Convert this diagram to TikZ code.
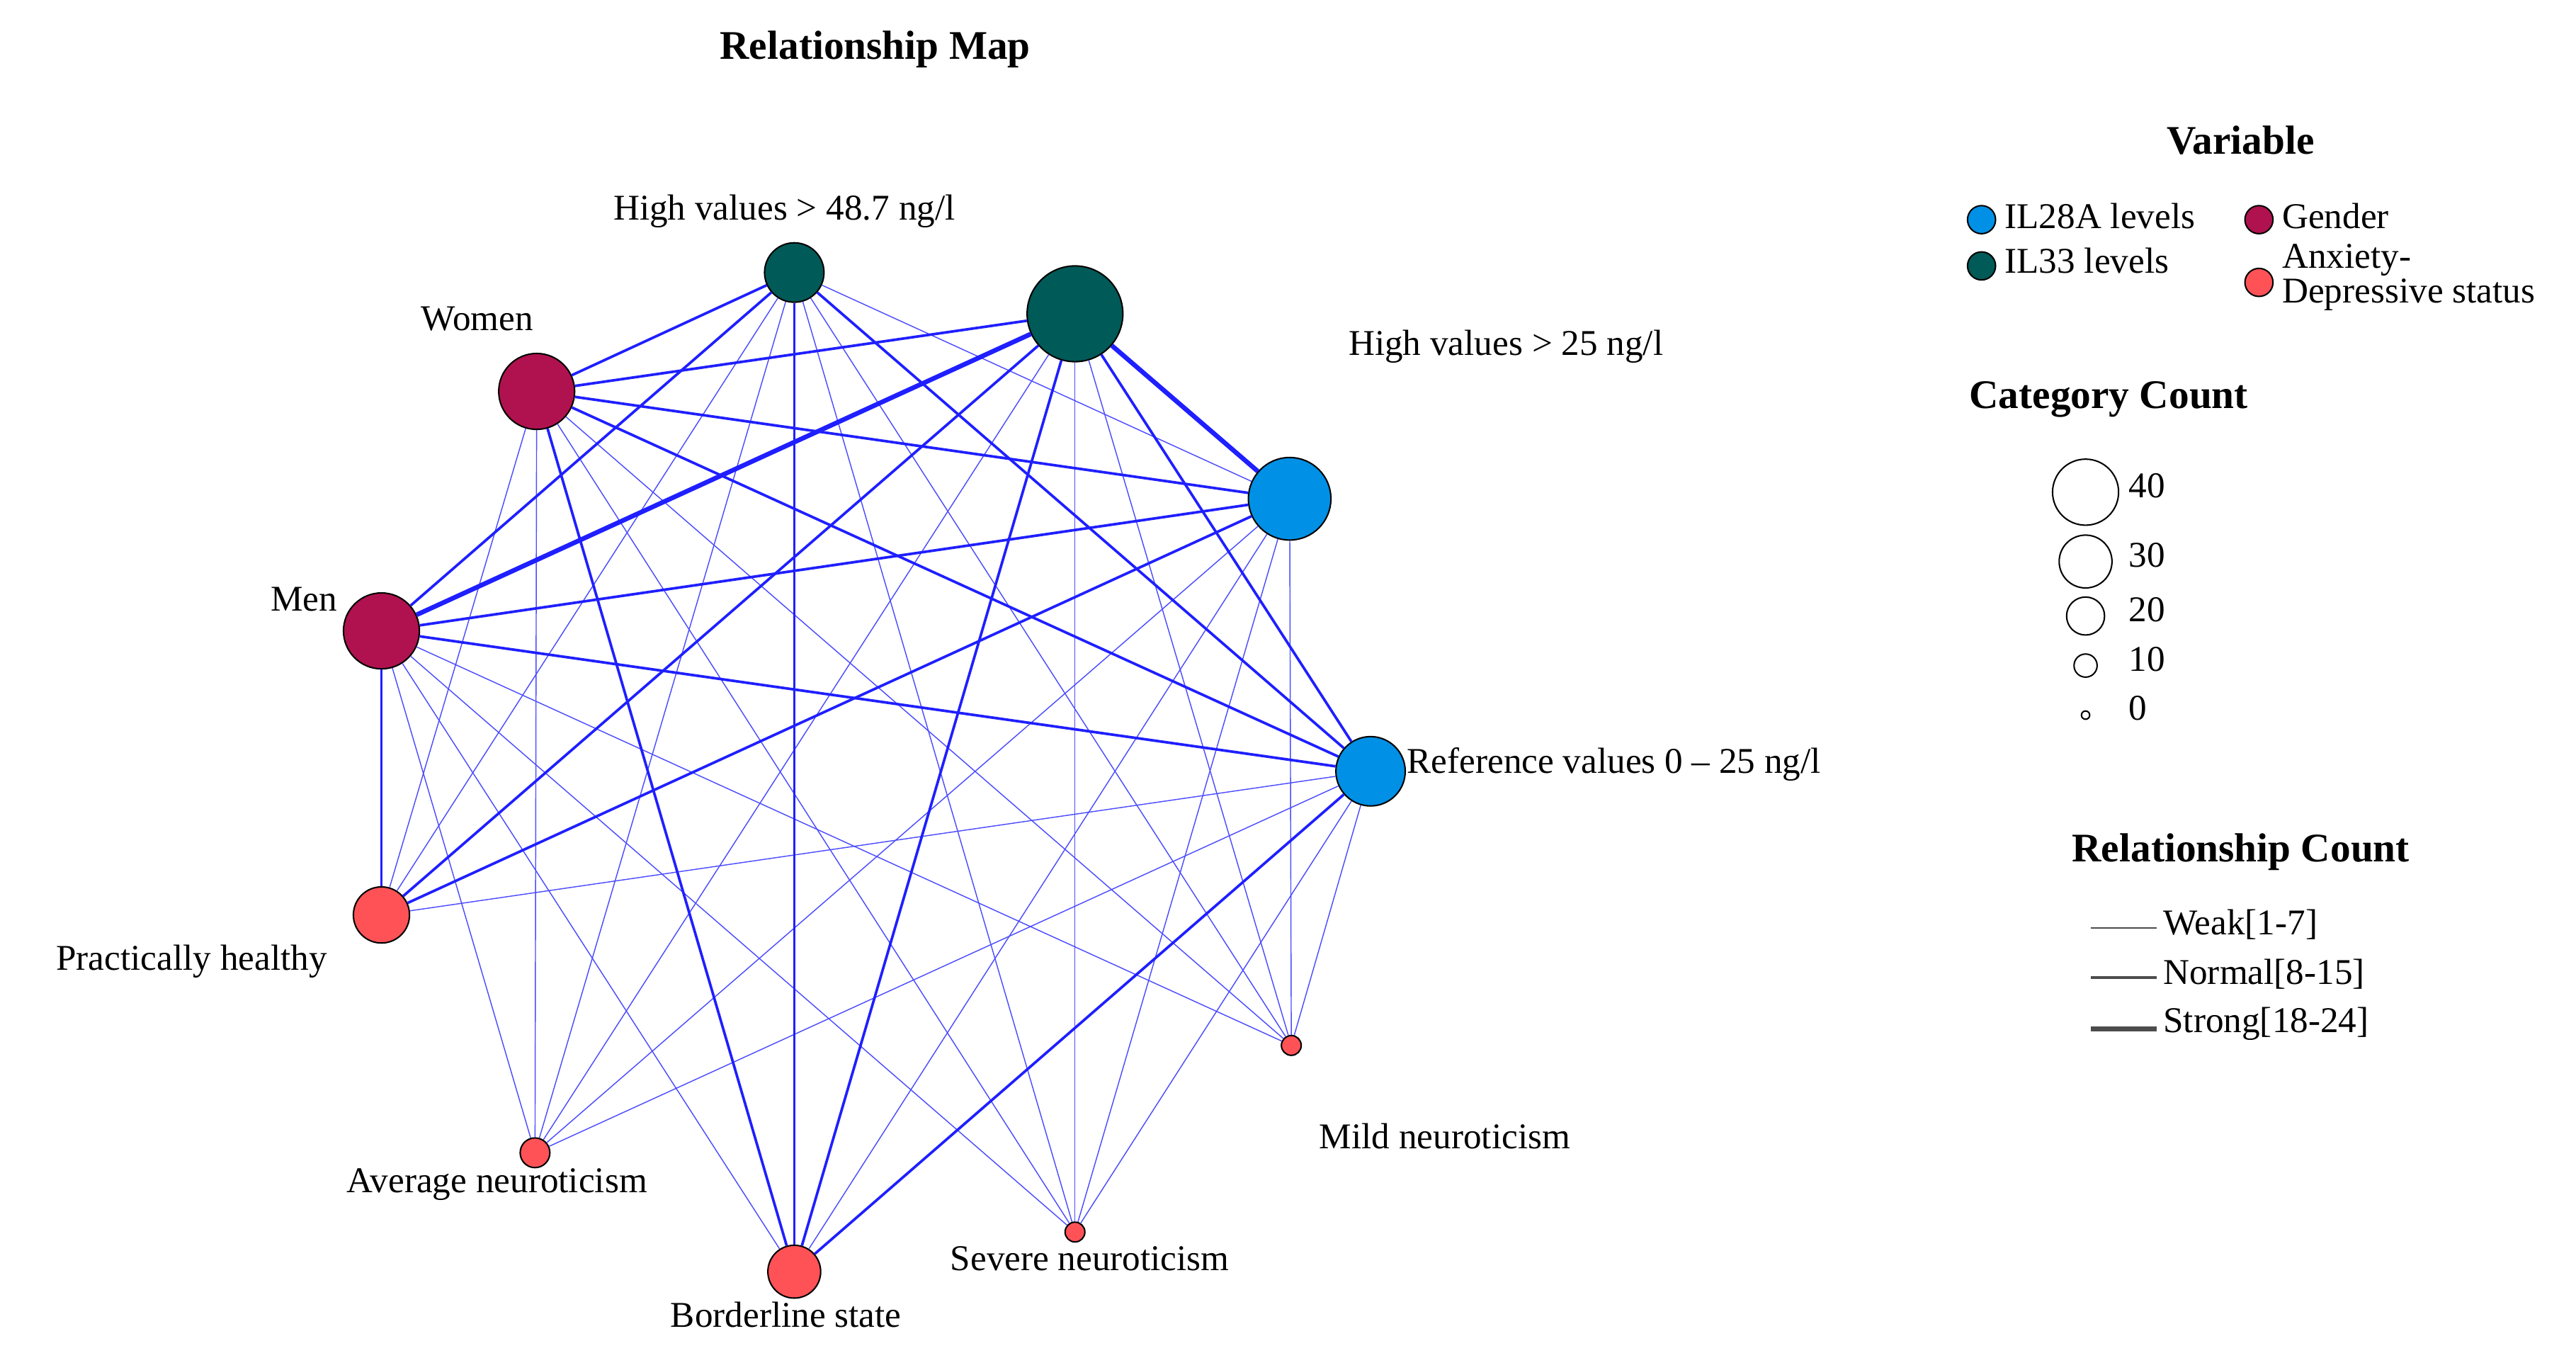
\documentclass[tikz,border=0pt]{standalone}
\usepackage{fontspec}
\setmainfont{Liberation Serif}
\begin{document}
\definecolor{cb}{HTML}{0091E6}
\definecolor{ct}{HTML}{005A58}
\definecolor{cg}{HTML}{B0124F}
\definecolor{ca}{HTML}{FF5257}
\definecolor{ce}{HTML}{1F1FFF}
\begin{tikzpicture}[x=0.02cm,y=-0.02cm,font=\fontsize{12.5}{13}\selectfont,
 nd/.style={circle,draw=black,line width=0.5pt,inner sep=0pt},
 weak/.style={ce!80,line width=0.35pt},
 normal/.style={ce,line width=0.9pt},
 strong/.style={ce,line width=1.6pt},
 lab/.style={inner sep=1pt}]
\useasboundingbox (0,0) rectangle (1560,819);
\node[font=\fontsize{14}{15}\selectfont\bfseries] (title) at (530,30) {Relationship Map};
% nodes
\foreach \n/\c/\s/\x/\y in {h48/ct/0.72/481/165,big/ct/1.16/651/190,wo/cg/0.92/325/237,h25/cb/1.0/781/302,men/cg/0.92/231/382,ref/cb/0.84/830/467,ph/ca/0.68/231/554,mild/ca/0.24/782/633,avg/ca/0.36/324/698,sev/ca/0.24/651/746,bor/ca/0.64/481/770}
 \node[nd,fill=\c,minimum size=\s cm] (\n) at (\x,\y) {};
% edges
\foreach \a/\b in {h48/h25,h48/ph,h48/avg,h48/sev,h48/mild,
 big/avg,big/sev,big/mild,
 wo/ph,wo/avg,wo/sev,wo/mild,
 men/avg,men/bor,men/sev,men/mild,
 h25/bor,h25/avg,h25/sev,h25/mild,
 ref/ph,ref/avg,ref/sev,ref/mild}
 \draw[weak] (\a) -- (\b);
\foreach \a/\b in {h48/wo,h48/men,h48/bor,h48/ref,wo/big,wo/h25,wo/ref,
 men/h25,men/ref,men/ph,big/ref,big/bor,big/ph,h25/ph,ref/bor,wo/bor}
 \draw[normal] (\a) -- (\b);
\foreach \a/\b in {men/big,big/h25}
 \draw[strong] (\a) -- (\b);
% labels
\node[lab] (l1) at (475,128) {High values > 48.7 ng/l};
\node[lab] (l2) at (289,193) {Women};
\node[lab] (l3) at (912,210) {High values > 25 ng/l};
\node[lab] (l4) at (184,363) {Men};
\node[lab,anchor=west] (l5) at (850,463) {Reference values 0 – 25 ng/l};
\node[lab] (l6) at (116,582) {Practically healthy};
\node[lab] (l7) at (875,688) {Mild neuroticism};
\node[lab] (l8) at (301,717) {Average neuroticism};
\node[lab] (l9) at (660,762) {Severe neuroticism};
\node[lab] (l10) at (476,796) {Borderline state};
% legend
\node[font=\fontsize{14}{15}\selectfont\bfseries] (vt) at (1357,85) {Variable};
\node[nd,fill=cb,minimum size=0.34cm] (v1) at (1200,133) {};
\node[lab,anchor=west] at (1212,131) {IL28A levels};
\node[nd,fill=ct,minimum size=0.34cm] (v2) at (1200,161) {};
\node[lab,anchor=west] at (1212,158) {IL33 levels};
\node[nd,fill=cg,minimum size=0.34cm] (v3) at (1368,133) {};
\node[lab,anchor=west] at (1380,131) {Gender};
\node[nd,fill=ca,minimum size=0.34cm] (v4) at (1368,171) {};
\node[lab,anchor=west,align=left,font=\fontsize{12.5}{10.5}\selectfont] at (1380,168) {Anxiety-\\Depressive status};
\node[font=\fontsize{14}{15}\selectfont\bfseries] (ct) at (1277,242) {Category Count};
\foreach \y/\s/\t in {298/0.8/40,340/0.64/30,373/0.46/20,403/0.28/10,433/0.1/0}{
 \node[nd,fill=white,minimum size=\s cm] at (1263,\y) {};
 \node[lab,anchor=west] at (1287,\y-4) {\t};}
\node[font=\fontsize{14}{15}\selectfont\bfseries] (rt) at (1357,516) {Relationship Count};
\coordinate (a1) at (1266,562); \coordinate (b1) at (1306,562);
\coordinate (a2) at (1266,592); \coordinate (b2) at (1306,592);
\coordinate (a3) at (1266,623); \coordinate (b3) at (1306,623);
\draw[gray!60!black,line width=0.4pt] (a1) -- (b1);
\draw[gray!60!black,line width=1pt] (a2) -- (b2);
\draw[gray!60!black,line width=1.8pt] (a3) -- (b3);
\node[lab,anchor=west] at (1308,560) {Weak[1-7]};
\node[lab,anchor=west] at (1308,590) {Normal[8-15]};
\node[lab,anchor=west] at (1308,620) {Strong[18-24]};
\end{tikzpicture}
\end{document}
